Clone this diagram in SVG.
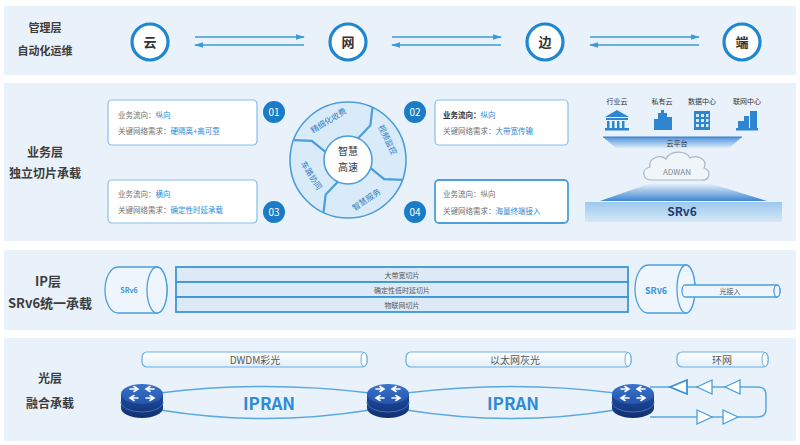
<svg xmlns="http://www.w3.org/2000/svg" width="800" height="445" viewBox="0 0 800 445">
  <defs>
    <style>
      text { font-family: "Noto Sans CJK SC", "Noto Sans", sans-serif; }
      .band { fill: #e9f2fa; }
      .layer { font-size: 12px; font-weight: bold; fill: #3c3c3c; text-anchor: middle; }
      .node-c { fill: #ffffff; stroke: #1f86d0; stroke-width: 3.2; }
      .node-t { font-size: 13px; font-weight: bold; fill: #333; text-anchor: middle; }
      .link { stroke: #3d9ad9; stroke-width: 1.5; fill: none; }
      .card { fill: #ffffff; stroke: #86bfe8; stroke-width: 1.2; }
      .lbl { font-size: 7.5px; fill: #707070; }
      .val { font-size: 7.5px; fill: #2a8ad6; }
      .num { fill: #1a7cc6; }
      .num-t { font-size: 10px; fill: #ffffff; text-anchor: middle; }
      .seg-t { font-size: 8px; fill: #2f7fc4; text-anchor: middle; }
      .slice { fill: #dceaf7; stroke: #3b95d7; stroke-width: 1.8; }
      .slice-t { font-size: 7px; fill: #555; text-anchor: middle; }
      .cyl { fill: #eef5fc; stroke: #4a9fdc; stroke-width: 1.3; }
      .tube { fill: url(#tubeGrad); stroke: #6aaee3; stroke-width: 1.2; }
      .tube-t { font-size: 10px; fill: #5a5a5a; text-anchor: middle; }
      .ipran { stroke: #5aa8e0; stroke-width: 1.5; fill: none; }
      .ipran-t { font-size: 17px; font-weight: bold; fill: #2e8bd4; text-anchor: middle; }
      .tri { fill: #ffffff; stroke: #4a9fdc; stroke-width: 1.3; }
      .ico { fill: #2f86d0; }
      .ico-t { font-size: 7px; fill: #333; text-anchor: middle; }
    </style>
    <marker id="headR" viewBox="0 0 10 10" refX="9" refY="5" markerWidth="6" markerHeight="6" orient="auto">
      <path d="M0,2 L10,5 L0,8 Z" fill="#3d9ad9"/>
    </marker>
    <linearGradient id="tubeGrad" x1="0" y1="0" x2="0" y2="1">
      <stop offset="0" stop-color="#ffffff"/>
      <stop offset="1" stop-color="#e3eff9"/>
    </linearGradient>
    <linearGradient id="routerBody" x1="0" y1="0" x2="0" y2="1">
      <stop offset="0" stop-color="#1c4ea6"/>
      <stop offset="1" stop-color="#132f6b"/>
    </linearGradient>
    <linearGradient id="routerTop" x1="0" y1="0" x2="0" y2="1">
      <stop offset="0" stop-color="#3a72cc"/>
      <stop offset="1" stop-color="#2456ad"/>
    </linearGradient>
    <linearGradient id="platTop" x1="0" y1="0" x2="0" y2="1">
      <stop offset="0" stop-color="#4f93dc"/>
      <stop offset="1" stop-color="#eaf3fb"/>
    </linearGradient>
    <linearGradient id="platBottom" x1="0" y1="0" x2="0" y2="1">
      <stop offset="0" stop-color="#e2eefa"/>
      <stop offset="1" stop-color="#3f86d2"/>
    </linearGradient>
    <linearGradient id="srBar" x1="0" y1="0" x2="0" y2="1">
      <stop offset="0" stop-color="#9cc8ee"/>
      <stop offset="1" stop-color="#d6e8f7"/>
    </linearGradient>
    <g id="router">
      <path d="M-21,-7 V7 A21,10 0 0 0 21,7 V-7 Z" fill="url(#routerBody)"/>
      <path d="M-21,1 A21,10 0 0 0 21,1" fill="none" stroke="#3b6fc6" stroke-width="1"/>
      <ellipse cx="0" cy="-7" rx="21" ry="10" fill="url(#routerTop)"/>
      <g stroke="#ffffff" stroke-width="1.6" fill="none" stroke-linecap="round">
        <path d="M-12,-12 H-4 M-8,-14.5 L-4,-12 L-8,-9.5"/>
        <path d="M12,-12 H4 M8,-14.5 L4,-12 L8,-9.5"/>
        <path d="M-4,-3 H-12 M-8,-5.5 L-12,-3 L-8,-0.5"/>
        <path d="M4,-3 H12 M8,-5.5 L12,-3 L8,-0.5"/>
      </g>
    </g>
  </defs>

  <rect width="800" height="445" fill="#ffffff"/>

  <!-- layer bands -->
  <rect class="band" x="4" y="6" width="792" height="69"/>
  <rect class="band" x="4" y="83" width="792" height="158"/>
  <rect class="band" x="4" y="250" width="792" height="80"/>
  <rect class="band" x="4" y="338" width="792" height="103"/>

  <!-- layer captions -->
  <g id="layer-labels">
    <text class="layer" x="45" y="32" style="font-size:11px">管理层</text>
    <text class="layer" x="45" y="55" style="font-size:11px">自动化运维</text>
    <text class="layer" x="45" y="157">业务层</text>
    <text class="layer" x="45" y="178">独立切片承载</text>
    <text class="layer" x="48" y="286" style="font-size:13px">IP层</text>
    <text class="layer" x="50" y="308" style="font-size:13px">SRv6统一承载</text>
    <text class="layer" x="50" y="383">光层</text>
    <text class="layer" x="50" y="408">融合承载</text>
  </g>

  <!-- management layer: cloud / network / edge / terminal -->
  <g id="node-yun"><circle class="node-c" cx="150" cy="42" r="18"/><text class="node-t" x="150" y="47">云</text></g>
  <g id="node-wang"><circle class="node-c" cx="348" cy="42" r="18"/><text class="node-t" x="348" y="47">网</text></g>
  <g id="node-bian"><circle class="node-c" cx="545" cy="42" r="18"/><text class="node-t" x="545" y="47">边</text></g>
  <g id="node-duan"><circle class="node-c" cx="742" cy="42" r="18"/><text class="node-t" x="742" y="47">端</text></g>

  <g id="connectors">
    <line class="link" x1="195" y1="37" x2="304" y2="37" marker-end="url(#headR)"/>
    <line class="link" x1="304" y1="45" x2="195" y2="45" marker-end="url(#headR)"/>
    <line class="link" x1="392" y1="37" x2="501" y2="37" marker-end="url(#headR)"/>
    <line class="link" x1="501" y1="45" x2="392" y2="45" marker-end="url(#headR)"/>
    <line class="link" x1="590" y1="37" x2="699" y2="37" marker-end="url(#headR)"/>
    <line class="link" x1="699" y1="45" x2="590" y2="45" marker-end="url(#headR)"/>
  </g>

  <!-- service cards -->
  <g id="card-01">
    <rect class="card" x="108" y="100" width="149" height="45" rx="4"/>
    <text x="118" y="118"><tspan class="lbl">业务流向：</tspan><tspan class="val">纵向</tspan></text>
    <text x="118" y="134"><tspan class="lbl">关键网络需求：</tspan><tspan class="val">硬隔离+高可靠</tspan></text>
    <circle class="num" cx="274" cy="112" r="11"/><text class="num-t" x="274" y="116">01</text>
  </g>
  <g id="card-03">
    <rect class="card" x="108" y="180" width="149" height="43" rx="4"/>
    <text x="118" y="197"><tspan class="lbl">业务流向：</tspan><tspan class="val">横向</tspan></text>
    <text x="118" y="213"><tspan class="lbl">关键网络需求：</tspan><tspan class="val">确定性时延承载</tspan></text>
    <circle class="num" cx="274" cy="212" r="11"/><text class="num-t" x="274" y="216">03</text>
  </g>
  <g id="card-02">
    <rect class="card" x="435" y="100" width="133" height="45" rx="4"/>
    <text x="443" y="118"><tspan class="lbl" style="fill:#333;font-weight:bold">业务流向：</tspan><tspan class="val">纵向</tspan></text>
    <text x="443" y="134"><tspan class="lbl">关键网络需求：</tspan><tspan class="val">大带宽传输</tspan></text>
    <circle class="num" cx="415" cy="112" r="11"/><text class="num-t" x="415" y="116">02</text>
  </g>
  <g id="card-04">
    <rect class="card" x="435" y="180" width="133" height="43" rx="4" style="stroke:#4c9fdc;stroke-width:1.8"/>
    <text x="443" y="197"><tspan class="lbl">业务流向：纵向</tspan></text>
    <text x="443" y="214"><tspan class="lbl">关键网络需求：</tspan><tspan class="val">海量终端接入</tspan></text>
    <circle class="num" cx="415" cy="212" r="11"/><text class="num-t" x="415" y="216">04</text>
  </g>

  <!-- smart highway wheel -->
  <g id="wheel">
    <circle cx="348" cy="160" r="58" fill="#d9eaf8" stroke="#4b9edb" stroke-width="1.6"/>
    <g stroke="#4b9edb" stroke-width="2.2" fill="none" stroke-linejoin="round">
      <polyline points="358.1,138.2 370.3,125.6 372.5,107.4"/>
      <polyline points="370.6,168.2 384.2,179.2 402.5,179.8"/>
      <polyline points="337.9,181.8 325.7,194.4 323.5,212.6"/>
      <polyline points="325.4,151.8 311.8,140.8 293.5,140.2"/>
    </g>
    <circle cx="348" cy="160" r="24" fill="#ffffff" stroke="#4b9edb" stroke-width="1.6"/>
    <text x="348" y="155" style="font-size:10px;fill:#333;text-anchor:middle">智慧</text>
    <text x="348" y="171" style="font-size:10px;fill:#333;text-anchor:middle">高速</text>
    <text class="seg-t" transform="translate(330,123) rotate(-32)">精细化收费</text>
    <text class="seg-t" transform="translate(385,141) rotate(64)">视频监控</text>
    <text class="seg-t" transform="translate(368,202) rotate(-34)">智慧服务</text>
    <text class="seg-t" transform="translate(309,177) rotate(58)">车路协同</text>
  </g>

  <!-- cloud platform stack -->
  <g id="cloud-stack">
    <text class="ico-t" x="617" y="104">行业云</text>
    <text class="ico-t" x="662" y="104">私有云</text>
    <text class="ico-t" x="702" y="104">数据中心</text>
    <text class="ico-t" x="747" y="104">联网中心</text>
    <!-- government building -->
    <g class="ico">
      <path d="M605,117 L617,110 L629,117 Z"/>
      <rect x="606" y="118" width="22" height="2"/>
      <rect x="607" y="121" width="2.5" height="7"/>
      <rect x="612" y="121" width="2.5" height="7"/>
      <rect x="617" y="121" width="2.5" height="7"/>
      <rect x="622" y="121" width="2.5" height="7"/>
      <rect x="605" y="128" width="24" height="2.5"/>
    </g>
    <!-- tower block -->
    <g class="ico">
      <rect x="658" y="113" width="9" height="17"/>
      <rect x="654" y="119" width="5" height="11"/>
      <rect x="667" y="117" width="5" height="13"/>
      <rect x="661" y="110" width="3" height="3"/>
    </g>
    <!-- data center -->
    <g>
      <rect x="694" y="111" width="16" height="19" fill="#2f86d0"/>
      <g fill="#d8e9f8">
        <rect x="696" y="114" width="3" height="3"/><rect x="701" y="114" width="3" height="3"/><rect x="706" y="114" width="2.5" height="3"/>
        <rect x="696" y="119" width="3" height="3"/><rect x="701" y="119" width="3" height="3"/><rect x="706" y="119" width="2.5" height="3"/>
        <rect x="696" y="124" width="3" height="3"/><rect x="701" y="124" width="3" height="3"/><rect x="706" y="124" width="2.5" height="3"/>
      </g>
    </g>
    <!-- network center -->
    <g class="ico">
      <rect x="738" y="121" width="6" height="9"/>
      <rect x="744" y="116" width="5" height="14"/>
      <rect x="750" y="111" width="7" height="19"/>
      <rect x="736" y="128" width="22" height="2.5"/>
    </g>
    <polygon points="603,137 742,137 728,149 617,149" fill="url(#platTop)"/>
    <line x1="603" y1="137" x2="742" y2="137" stroke="#3a7fcc" stroke-width="1"/>
    <text x="677" y="146" style="font-size:7px;fill:#333;text-anchor:middle">云平台</text>
    <path d="M652,180 C642,180 641,169 650,167 C648,158 660,154 666,159 C670,150 686,150 690,158 C698,154 708,160 704,168 C712,171 710,181 701,180 Z" fill="#f0f5fa" stroke="#a9b9c9" stroke-width="1.2"/>
    <text x="677" y="175" style="font-size:8px;fill:#7a8794;text-anchor:middle">ADWAN</text>
    <polygon points="648,184 712,184 767,201 600,201" fill="url(#platBottom)"/>
    <rect x="585" y="202" width="197" height="20" fill="url(#srBar)"/>
    <text x="682" y="216" style="font-size:12px;font-weight:bold;fill:#1d3e72;text-anchor:middle">SRv6</text>
  </g>

  <!-- IP layer -->
  <g id="srv6-left">
    <path class="cyl" d="M118,267 H157 A10,23 0 0 1 157,313 H118 A13,23 0 0 1 118,267 Z"/>
    <ellipse class="cyl" cx="157" cy="290" rx="10" ry="23"/>
    <text x="129" y="293" style="font-size:7px;font-weight:bold;fill:#3a95d8;text-anchor:middle">SRv6</text>
  </g>
  <g id="slices">
    <rect class="slice" x="176" y="267" width="452" height="15"/>
    <rect class="slice" x="176" y="282" width="452" height="15"/>
    <rect class="slice" x="176" y="297" width="452" height="15"/>
    <text class="slice-t" x="402" y="277.5">大带宽切片</text>
    <text class="slice-t" x="402" y="292.5">确定性低时延切片</text>
    <text class="slice-t" x="402" y="307.5">物联网切片</text>
  </g>
  <g id="srv6-right">
    <path class="cyl" d="M648,265 H686 A9,24 0 0 1 686,313 H648 A13,24 0 0 1 648,265 Z"/>
    <ellipse class="cyl" cx="686" cy="289" rx="9" ry="24"/>
    <text x="656" y="294" style="font-size:9px;font-weight:bold;fill:#3a95d8;text-anchor:middle">SRv6</text>
  </g>
  <g id="access-tube">
    <path class="cyl" d="M685,285 H777 A3,6 0 0 1 777,297 H685 A3,6 0 0 1 685,285 Z"/>
    <ellipse class="cyl" cx="777" cy="291" rx="3" ry="6"/>
    <text x="730" y="294" style="font-size:7px;fill:#555;text-anchor:middle">光接入</text>
  </g>

  <!-- optical layer -->
  <g id="tube-dwdm">
    <rect class="tube" x="142" y="352" width="225" height="15" rx="5"/>
    <ellipse cx="364" cy="359.5" rx="3" ry="7" fill="#ffffff" stroke="#6aaee3" stroke-width="1"/>
    <text class="tube-t" x="255" y="363.5">DWDM彩光</text>
  </g>
  <g id="tube-eth">
    <rect class="tube" x="406" y="352" width="225" height="15" rx="5"/>
    <ellipse cx="628" cy="359.5" rx="3" ry="7" fill="#ffffff" stroke="#6aaee3" stroke-width="1"/>
    <text class="tube-t" x="515" y="363.5">以太网灰光</text>
  </g>
  <g id="tube-ring">
    <rect class="tube" x="677" y="352" width="91" height="15" rx="5"/>
    <ellipse cx="765" cy="359.5" rx="3" ry="7" fill="#ffffff" stroke="#6aaee3" stroke-width="1"/>
    <text class="tube-t" x="722" y="363.5">环网</text>
  </g>

  <g id="ipran-links">
    <path class="ipran" d="M160,393 Q265,380 370,393"/>
    <path class="ipran" d="M160,410 Q265,427 370,410"/>
    <path class="ipran" d="M406,393 Q513,380 615,393"/>
    <path class="ipran" d="M406,410 Q513,427 615,410"/>
    <text class="ipran-t" x="269" y="410">IPRAN</text>
    <text class="ipran-t" x="513" y="410">IPRAN</text>
  </g>

  <g id="ring-net">
    <path class="ipran" d="M650,387 H758 Q766,387 766,395 V409 Q766,417 758,417 H650"/>
    <polygon class="tri" points="670,387 687,380 687,394" style="stroke:#3a90d6;stroke-width:1.8"/>
    <polygon class="tri" points="697,387 712,380 712,394"/>
    <polygon class="tri" points="725,387 740,380 740,394"/>
    <polygon class="tri" points="712,417 697,410 697,424"/>
    <polygon class="tri" points="738,417 723,410 723,424"/>
  </g>

  <g id="router-1"><use href="#router" x="142" y="401"/></g>
  <g id="router-2"><use href="#router" x="388" y="401"/></g>
  <g id="router-3"><use href="#router" x="633" y="401"/></g>
</svg>
